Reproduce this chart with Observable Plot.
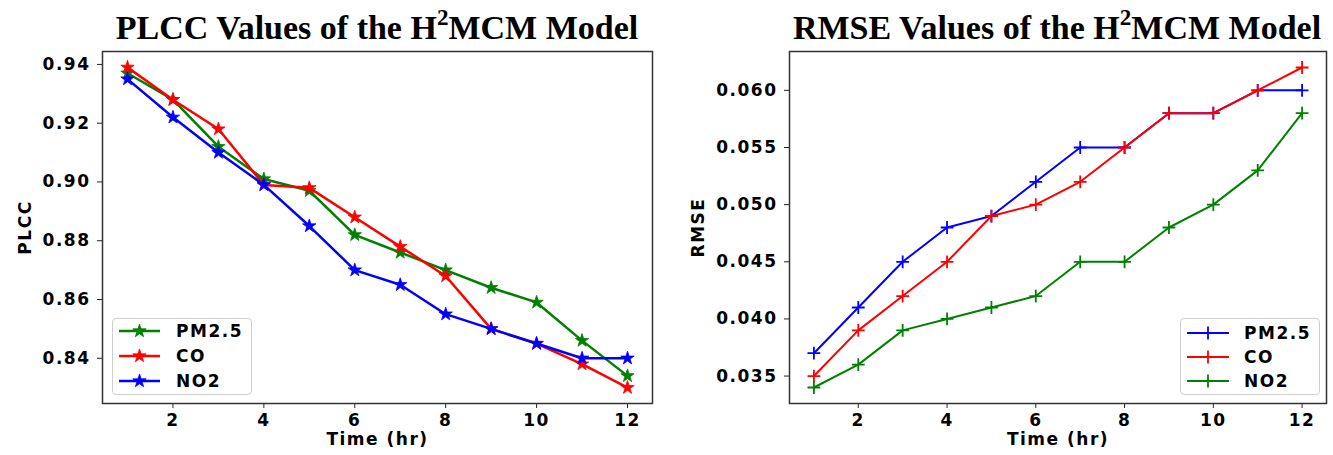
<!DOCTYPE html>
<html>
<head>
<meta charset="utf-8">
<script src="https://cdn.jsdelivr.net/npm/d3@7"></script>
<script src="https://cdn.jsdelivr.net/npm/@observablehq/plot@0.6"></script>
<style>
  html, body { margin: 0; padding: 0; background: #fff; }
  #wrap { position: relative; width: 1333px; height: 455px; overflow: hidden; }
  .panel { position: absolute; top: 0; }
  .title { position: absolute; top: 11px; font-family: "Liberation Serif", "Times New Roman", serif; font-weight: bold; font-size: 34px; line-height: 34px; white-space: nowrap; transform: translateX(-50%); color: #000; }
  .title sup { font-size: 0.68em; vertical-align: 0.6em; line-height: 0; }
  .legend { position: absolute; box-sizing: border-box; border: 1px solid #cfcfcf; border-radius: 4px; background: rgba(255,255,255,0.85); }
  .legend .item { position: absolute; left: 0; height: 20px; }
  .legend .item span { position: absolute; top: 0; font-family: "DejaVu Sans", sans-serif; font-weight: bold; font-size: 17px; letter-spacing: 1.5px; line-height: 20px; white-space: nowrap; }
  .legend svg { position: absolute; top: 0; }
</style>
</head>
<body>
<div id="wrap"></div>
<script>
// ---------- data ----------
const hours = [1, 2, 3, 4, 5, 6, 7, 8, 9, 10, 11, 12];
const xTicks = [2, 4, 6, 8, 10, 12];

const plccPM25 = [0.937, 0.928, 0.912, 0.901, 0.897, 0.882, 0.876, 0.870, 0.864, 0.859, 0.846, 0.834];
const plccCO   = [0.939, 0.928, 0.918, 0.899, 0.898, 0.888, 0.878, 0.868, 0.850, 0.845, 0.838, 0.830];
const plccNO2  = [0.935, 0.922, 0.910, 0.899, 0.885, 0.870, 0.865, 0.855, 0.850, 0.845, 0.840, 0.840];
const plccTicks = [0.84, 0.86, 0.88, 0.90, 0.92, 0.94];

const rmsePM25 = [0.037, 0.041, 0.045, 0.048, 0.049, 0.052, 0.055, 0.055, 0.058, 0.058, 0.060, 0.060];
const rmseCO   = [0.035, 0.039, 0.042, 0.045, 0.049, 0.050, 0.052, 0.055, 0.058, 0.058, 0.060, 0.062];
const rmseNO2  = [0.034, 0.036, 0.039, 0.040, 0.041, 0.042, 0.045, 0.045, 0.048, 0.050, 0.053, 0.058];
const rmseTicks = [0.035, 0.040, 0.045, 0.050, 0.055, 0.060];

const seriesNames = ["PM2.5", "CO", "NO2"];
const plccColors = ["green", "red", "blue"];
const rmseColors = ["blue", "red", "green"];

const plccSeries = [plccPM25, plccCO, plccNO2];
const rmseSeries = [rmsePM25, rmseCO, rmseNO2];

const toRows = (vals) => hours.map((h, i) => ({hour: h, value: vals[i]}));

const wrap = document.getElementById("wrap");
const H = 455;

function panel({left, width, marginLeft, marginRight, yDomain, yTicks, yFormat, yLabel, labelOffset, series, colors, symbol, r, lineWidth, dotStyle}) {
  const marks = [];
  series.forEach((vals, i) => {
    const rows = toRows(vals);
    marks.push(Plot.line(rows, {x: "hour", y: "value", stroke: colors[i], strokeWidth: lineWidth}));
    if (dotStyle === "fill") {
      marks.push(Plot.dot(rows, {x: "hour", y: "value", symbol, r, fill: colors[i], stroke: colors[i], strokeWidth: 0.8}));
    } else {
      marks.push(Plot.dot(rows, {x: "hour", y: "value", symbol, r, stroke: colors[i], strokeWidth: 1.8}));
    }
  });
  const chart = Plot.plot({
    width, height: H,
    marginLeft, marginRight, marginTop: 51, marginBottom: 52,
    style: {fontFamily: "DejaVu Sans, sans-serif", fontWeight: "bold", fontSize: "17px", letterSpacing: "1.5px", color: "#000", background: "transparent"},
    x: {domain: [0.45, 12.55]},
    y: {domain: yDomain},
    marks: [
      Plot.axisX({ticks: xTicks, tickSize: 5, tickPadding: 5, label: "Time (hr)", labelAnchor: "center", labelArrow: "none", labelOffset: 41, stroke: "#222", fontSize: 17}),
      Plot.axisY({ticks: yTicks, tickFormat: yFormat, tickSize: 5, tickPadding: 7, label: yLabel, labelAnchor: "center", labelArrow: "none", labelOffset: labelOffset, stroke: "#222"}),
      ...marks,
      Plot.frame({stroke: "#333", strokeWidth: 1.5})
    ]
  });
  chart.classList.add("panel");
  chart.style.left = left + "px";
  wrap.appendChild(chart);
}

panel({left: 0, width: 666, marginLeft: 102, marginRight: 14,
  yDomain: [0.8246, 0.9444], yTicks: plccTicks, yFormat: d3.format(".2f"), yLabel: "PLCC", labelOffset: 84,
  series: plccSeries, colors: plccColors, symbol: "star", r: 4.2, lineWidth: 2.5, dotStyle: "fill"});

panel({left: 666, width: 667, marginLeft: 123, marginRight: 7,
  yDomain: [0.0326, 0.0634], yTicks: rmseTicks, yFormat: d3.format(".3f"), yLabel: "RMSE", labelOffset: 98,
  series: rmseSeries, colors: rmseColors, symbol: "plus", r: 4.2, lineWidth: 2, dotStyle: "stroke"});

// ---------- titles ----------
function title(cx, name) {
  const d = document.createElement("div");
  d.className = "title";
  d.style.left = cx + "px";
  d.innerHTML = name + " Values of the H<sup>2</sup>MCM Model";
  wrap.appendChild(d);
}
title(377, "PLCC");
title(1057, "RMSE");

// ---------- legends ----------
function legend({left, top, width, height, colors, lineX0, lineX1, textX, rowYs, filled}) {
  const box = document.createElement("div");
  box.className = "legend";
  box.style.left = left + "px";
  box.style.top = top + "px";
  box.style.width = width + "px";
  box.style.height = height + "px";
  seriesNames.forEach((name, i) => {
    const item = document.createElement("div");
    item.className = "item";
    item.style.top = (rowYs[i] - top - 10) + "px";
    item.style.width = width + "px";
    const svg = d3.create("svg").attr("width", lineX1 + 8).attr("height", 20);
    svg.append("line").attr("x1", lineX0).attr("x2", lineX1).attr("y1", 10).attr("y2", 10)
      .attr("stroke", colors[i]).attr("stroke-width", filled ? 2.5 : 2);
    const sym = d3.symbol().type(filled ? d3.symbolStar : d3.symbolPlus).size(Math.PI * 4.2 * 4.2)();
    svg.append("path").attr("d", sym).attr("transform", `translate(${(lineX0 + lineX1) / 2},10)`)
      .attr("fill", filled ? colors[i] : "none").attr("stroke", colors[i]).attr("stroke-width", filled ? 0.8 : 1.8);
    item.appendChild(svg.node());
    const t = document.createElement("span");
    t.style.left = textX + "px";
    t.textContent = name;
    item.appendChild(t);
    box.appendChild(item);
  });
  wrap.appendChild(box);
}
legend({left: 112, top: 318, width: 140, height: 77, colors: plccColors,
  lineX0: 6, lineX1: 47, textX: 63, rowYs: [330, 355, 380], filled: true});
legend({left: 1180, top: 318, width: 140, height: 77, colors: rmseColors,
  lineX0: 6, lineX1: 48, textX: 63, rowYs: [332, 356, 380], filled: false});
</script>
</body>
</html>
